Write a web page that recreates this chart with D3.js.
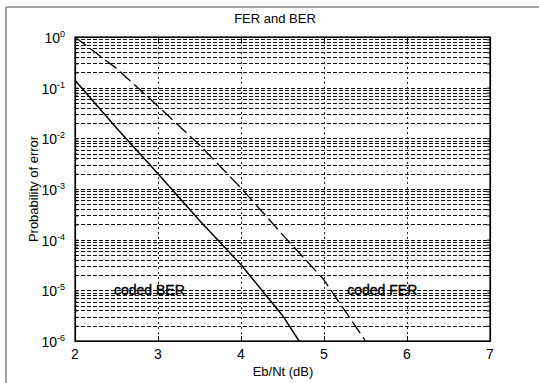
<!DOCTYPE html>
<html>
<head>
<meta charset="utf-8">
<script src="https://cdn.jsdelivr.net/npm/d3@7"></script>
<style>
  body { margin: 0; background: #fff; }
  svg { display: block; font-family: "Liberation Sans", Arial, sans-serif; }
</style>
</head>
<body>
<div class="container"></div>
<script>
// data
var berEbNt = [2.0, 2.5, 3.0, 3.5, 4.0, 4.5, 4.7];
var berValues = [0.14, 1.6e-2, 2.0e-3, 2.4e-4, 3.2e-5, 3.2e-6, 1.0e-6];
var ferEbNt = [2.0, 2.5, 3.0, 3.5, 4.0, 4.5, 5.0, 5.5];
var ferValues = [1.0, 0.24, 0.043, 7.4e-3, 1.05e-3, 1.26e-4, 1.6e-5, 1.0e-6];
var xTicks = [2, 3, 4, 5, 6, 7];
var yExponents = [0, -1, -2, -3, -4, -5, -6];
var curveLabels = [
  { text: 'coded BER', x: 2.47, y: 1e-5 },
  { text: 'coded FER', x: 5.28, y: 1e-5 }
];

var width = 539, height = 383;
// plot box (note: "top" is reserved on window, so use pTop etc.)
var pLeft = 75, pRight = 490, pTop = 37, pBottom = 341;

var svg = d3.select('.container')
  .append('svg')
  .attr('width', width)
  .attr('height', height);

// scanned figure frame
svg.append('line').attr('x1', 6).attr('y1', 7).attr('x2', 539).attr('y2', 7)
  .attr('stroke', '#888').attr('stroke-width', 1.5);
svg.append('line').attr('x1', 6).attr('y1', 7).attr('x2', 6).attr('y2', 383)
  .attr('stroke', '#888').attr('stroke-width', 1.5);

var x = d3.scaleLinear().domain([2, 7]).range([pLeft, pRight]);
var y = d3.scaleLog().domain([1e-6, 1]).range([pBottom, pTop]);

// grid: horizontal at every log tick, vertical at major x ticks
var minorVals = [];
yExponents.forEach(function(e) {
  if (e === 0) return;
  for (var m = 1; m <= 9; m++) minorVals.push(m * Math.pow(10, e));
});
minorVals.push(1);

var grid = svg.append('g').attr('class', 'grid');
grid.selectAll('line.h')
  .data(minorVals)
  .enter()
  .append('line')
  .attr('class', 'h')
  .attr('x1', pLeft).attr('x2', pRight)
  .attr('y1', function(d) { return Math.round(y(d)) + 0.5; })
  .attr('y2', function(d) { return Math.round(y(d)) + 0.5; })
  .attr('stroke', '#111')
  .attr('stroke-width', 1)
  .attr('stroke-dasharray', '4,2');

grid.selectAll('line.v')
  .data(xTicks.slice(1, -1))
  .enter()
  .append('line')
  .attr('class', 'v')
  .attr('x1', function(d) { return Math.round(x(d)) + 0.5; })
  .attr('x2', function(d) { return Math.round(x(d)) + 0.5; })
  .attr('y1', pTop).attr('y2', pBottom)
  .attr('stroke', '#222')
  .attr('stroke-width', 1)
  .attr('stroke-dasharray', '2,3');

// axes
var xAxis = d3.axisBottom(x).tickValues(xTicks).tickSizeInner(-5).tickSizeOuter(0).tickFormat('');
svg.append('g').attr('transform', 'translate(0,' + pBottom + ')').call(xAxis);
var xAxisTop = d3.axisTop(x).tickValues(xTicks).tickSizeInner(-5).tickSizeOuter(0).tickFormat('');
svg.append('g').attr('transform', 'translate(0,' + pTop + ')').call(xAxisTop);

var yAxisL = d3.axisLeft(y).tickValues(minorVals).tickSizeInner(-3).tickSizeOuter(0).tickFormat('');
svg.append('g').attr('transform', 'translate(' + pLeft + ',0)').call(yAxisL);
var yAxisR = d3.axisRight(y).tickValues(minorVals).tickSizeInner(-3).tickSizeOuter(0).tickFormat('');
svg.append('g').attr('transform', 'translate(' + pRight + ',0)').call(yAxisR);

svg.selectAll('.domain').attr('stroke', '#000').attr('stroke-width', 1.2);
svg.selectAll('.tick line').attr('stroke', '#000');

// box
svg.append('rect')
  .attr('x', pLeft).attr('y', pTop)
  .attr('width', pRight - pLeft).attr('height', pBottom - pTop)
  .attr('fill', 'none').attr('stroke', '#000').attr('stroke-width', 1.2);

// tick labels
svg.append('g').selectAll('text')
  .data(xTicks)
  .enter()
  .append('text')
  .attr('x', function(d) { return x(d); })
  .attr('y', pBottom + 18)
  .attr('text-anchor', 'middle')
  .attr('font-size', 14)
  .text(function(d) { return d; });

var yLab = svg.append('g').selectAll('text')
  .data(yExponents)
  .enter()
  .append('text')
  .attr('x', 65)
  .attr('y', function(d) { return y(Math.pow(10, d)) + 6; })
  .attr('text-anchor', 'end')
  .attr('font-size', 14);
yLab.append('tspan').text('10');
yLab.append('tspan')
  .attr('dy', -6)
  .attr('font-size', 9)
  .text(function(d) { return d; });

// curves
var line = d3.line()
  .x(function(d) { return x(d[0]); })
  .y(function(d) { return y(d[1]); });

svg.append('path')
  .datum(d3.zip(berEbNt, berValues))
  .attr('d', line)
  .attr('fill', 'none')
  .attr('stroke', '#000')
  .attr('stroke-width', 1.5);

svg.append('path')
  .datum(d3.zip(ferEbNt, ferValues))
  .attr('d', line)
  .attr('fill', 'none')
  .attr('stroke', '#000')
  .attr('stroke-width', 1.3)
  .attr('stroke-dasharray', '14,5');

svg.selectAll('text.curve')
  .data(curveLabels)
  .enter()
  .append('text')
  .attr('class', 'curve')
  .attr('x', function(d) { return x(d.x); })
  .attr('y', function(d) { return y(d.y) + 5; })
  .attr('font-size', 14)
  .attr('stroke', '#000')
  .attr('stroke-width', 0.4)
  .text(function(d) { return d.text; });

// titles
svg.append('text')
  .attr('x', 275)
  .attr('y', 23)
  .attr('text-anchor', 'middle')
  .attr('font-size', 13)
  .text('FER and BER');

svg.append('text')
  .attr('x', 283)
  .attr('y', 376)
  .attr('text-anchor', 'middle')
  .attr('font-size', 13)
  .text('Eb/Nt (dB)');

svg.append('text')
  .attr('transform', 'translate(38,' + (pTop + pBottom) / 2 + ') rotate(-90)')
  .attr('text-anchor', 'middle')
  .attr('font-size', 13)
  .text('Probability of error');
</script>
</body>
</html>
